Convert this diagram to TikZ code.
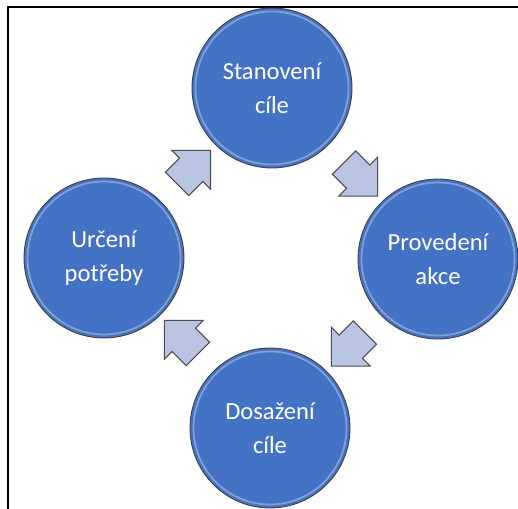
\documentclass[tikz,border=0pt]{standalone}
\usepackage{fontspec}
\setmainfont{Carlito}
\usetikzlibrary{shapes.arrows,calc}
\definecolor{kruh}{RGB}{68,114,196}
\definecolor{sipka}{RGB}{184,196,226}

\begin{document}
\begin{tikzpicture}[x=0.02cm,y=-0.02cm]
        \useasboundingbox (0,0) rectangle (518,509);
        \draw[line width=1.3pt] (8,509) -- (8,7) -- (518,7);

        \begin{scope}[every node/.style={circle,draw=black!75,line width=0.5pt,
            fill=kruh,minimum size=3.2cm,inner sep=0pt,text=white,align=center,
            font=\fontsize{14}{19}\selectfont,
            path picture={\draw[white!55!kruh,line width=1pt,opacity=.6]
              (path picture bounding box.center) circle[radius=1.53cm];}}]
          \node (cil)      at (272,88)  {Stanovení\\cíle};
          \node (akce)     at (438,259) {Provedení\\akce};
          \node (dosazeni) at (270,428) {Dosažení\\cíle};
          \node (potreba)  at (104,258) {Určení\\potřeby};
        \end{scope}

        \begin{scope}[every node/.style={single arrow,draw=black!70,line width=0.6pt,
            fill=sipka,minimum height=0.95cm,minimum width=1.08cm,
            single arrow head extend=0.22cm,inner xsep=0pt,inner ysep=0.32cm}]
          \node[rotate=-45]  (s1) at ($(cil)!0.5!(akce)$)         {};
          \node[rotate=-135] (s2) at ($(akce)!0.5!(dosazeni)$)    {};
          \node[rotate=135]  (s3) at ($(dosazeni)!0.5!(potreba)$) {};
          \node[rotate=45]   (s4) at ($(potreba)!0.5!(cil)$)      {};
        \end{scope}

\end{tikzpicture}
\end{document}
